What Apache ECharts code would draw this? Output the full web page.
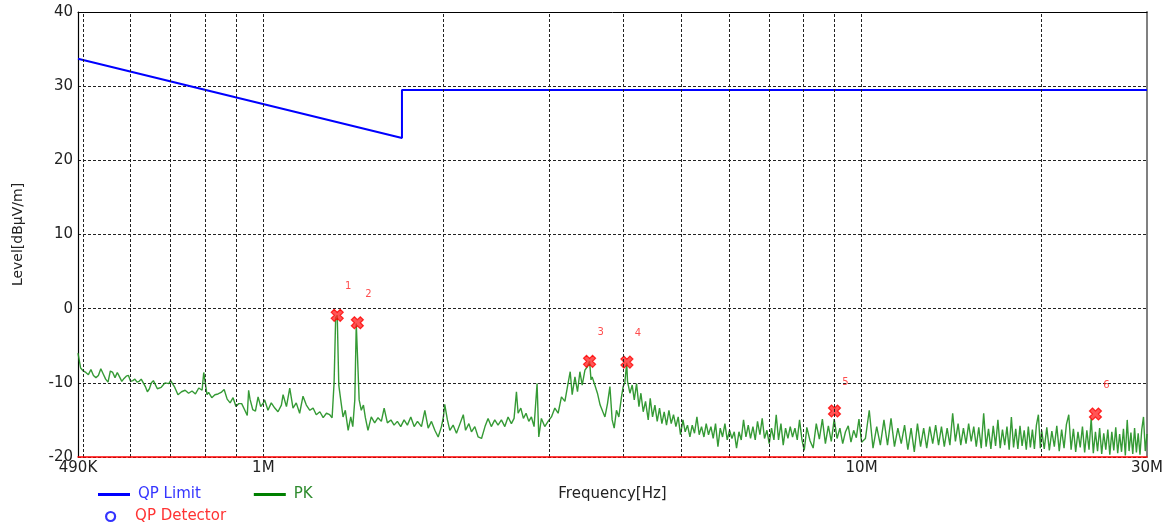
<!DOCTYPE html>
<html>
<head>
<meta charset="utf-8">
<script src="https://cdn.jsdelivr.net/npm/echarts@6.0.0/dist/echarts.min.js"></script>
<style>
html,body{margin:0;padding:0;background:#fff;}
#chart{width:1170px;height:527px;}
</style>
</head>
<body>
<div id="chart"></div>
<script>
// ---- Data (frequencies in MHz, levels in dBµV/m) ----
const xTickMHz = [0.49, 1, 10, 30];
const xTickText = ['490K', '1M', '10M', '30M'];
const gridFreqMHz = [0.5, 0.6, 0.7, 0.8, 0.9, 1, 2, 3, 4, 5, 6, 7, 8, 9, 10, 20];

const limitFreqMHz = [0.49, 1.705, 1.705, 30];
const limitLevel = [33.7, 23.0, 29.5, 29.5];

const peakFreqMHz = [1.329, 1.436, 3.51, 4.053, 9.01, 24.6];
const peakLevel = [-0.9, -1.9, -7.1, -7.2, -13.8, -14.2];
const peakLabels = ['1', '2', '3', '4', '5', '6'];

const pkFreqA = [0.490,0.495,0.500,0.505,0.510,0.515,0.520,0.525,0.530,0.535,
  0.540,0.545,0.550,0.555,0.560,0.565,0.570,0.575,0.580,0.585,
  0.590,0.595,0.600,0.605,0.610,0.615,0.620,0.625,0.630,0.635,
  0.640,0.645,0.650,0.655,0.660,0.665,0.670,0.675,0.680,0.685,
  0.690,0.695,0.700,0.710,0.720,0.730,0.740,0.750,0.760,0.770,
  0.780,0.790,0.795,0.800,0.805,0.810,0.820,0.830,0.840,0.850,
  0.860,0.870,0.880,0.890,0.900,0.910,0.920,0.930,0.940,0.945,
  0.950,0.960,0.970,0.980,0.990];
const pkLevelA = [-6.0,-8.0,-8.4,-8.6,-8.9,-8.2,-9.0,-9.3,-9.0,-8.1,
  -8.8,-9.5,-9.9,-8.4,-8.6,-9.3,-8.6,-9.2,-9.8,-9.4,
  -9.1,-9.0,-9.8,-9.7,-9.5,-9.9,-9.8,-9.5,-10.0,-10.5,
  -11.2,-10.8,-10.0,-9.7,-9.9,-10.8,-10.9,-10.6,-10.3,-10.0,
  -10.2,-10.1,-9.7,-10.5,-11.6,-11.2,-11.0,-11.4,-11.1,-11.5,
  -10.7,-11.0,-8.6,-8.8,-11.6,-11.3,-12.0,-11.6,-11.5,-11.3,
  -10.9,-12.2,-12.7,-12.0,-13.2,-12.8,-12.8,-13.6,-14.4,-11.0,
  -12.2,-13.6,-13.8,-11.9,-13.2];

const pkFreqB = [1.000,1.005,1.018,1.031,1.045,1.058,1.072,1.079,1.093,1.107,
  1.121,1.135,1.150,1.165,1.180,1.196,1.211,1.226,1.243,1.259,
  1.275,1.291,1.303,1.313,1.321,1.329,1.337,1.347,1.359,1.371,
  1.386,1.400,1.411,1.422,1.430,1.437,1.446,1.458,1.470,1.481,
  1.496,1.515,1.535,1.555,1.575,1.592,1.612,1.634,1.654,1.675,
  1.697,1.719,1.741,1.764,1.787,1.810,1.838,1.862,1.886,1.910,
  1.935,1.960,1.985,2.000];
const pkLevelB = [-12.7,-12.3,-13.7,-12.7,-13.4,-13.9,-13.0,-11.6,-13.2,-10.7,
  -13.4,-12.7,-14.1,-11.8,-13.0,-13.7,-13.4,-14.3,-13.9,-14.7,
  -14.1,-14.3,-14.7,-10.0,-1.2,-0.9,-10.3,-12.3,-14.6,-13.7,
  -16.4,-14.6,-15.9,-12.3,-2.0,-1.9,-12.3,-13.7,-13.0,-14.7,
  -16.4,-14.6,-15.4,-14.7,-15.2,-13.4,-15.4,-15.0,-15.7,-15.2,
  -15.9,-15.0,-15.7,-14.6,-15.9,-15.2,-15.9,-13.7,-16.1,-15.2,
  -16.4,-17.3,-15.9,-14.6];

const pkFreqC = [2.010,2.031,2.050,2.076,2.103,2.132,2.159,2.178,2.206,2.228,
  2.257,2.286,2.316,2.347,2.375,2.405,2.437,2.468,2.500,2.533,
  2.565,2.598,2.625,2.649,2.666,2.694,2.721,2.749,2.778,2.806,
  2.835,2.868,2.887,2.916,2.954,2.992,3.031,3.071,3.110,3.150,
  3.192,3.224,3.258,3.283,3.318,3.351,3.382,3.412,3.448,3.482,
  3.510,3.530,3.545,3.582,3.618,3.656,3.694,3.724,3.761,3.796,
  3.829,3.859,3.893,3.929,3.969,3.995,4.020,4.050,4.062];
const pkLevelC = [-12.9,-15.0,-16.4,-15.7,-16.8,-15.5,-14.3,-16.4,-15.5,-16.6,
  -15.9,-17.3,-17.5,-15.9,-14.8,-15.9,-15.0,-15.7,-15.0,-15.9,
  -14.6,-15.5,-14.8,-11.2,-14.1,-13.4,-14.8,-14.1,-15.2,-14.6,
  -15.9,-10.1,-17.3,-14.8,-15.9,-15.2,-14.6,-13.4,-14.1,-11.9,
  -12.5,-10.5,-8.5,-11.6,-9.2,-11.2,-8.5,-10.3,-8.3,-7.8,
  -7.1,-9.6,-9.2,-10.3,-11.4,-13.0,-13.9,-14.6,-12.8,-10.5,
  -15.0,-16.1,-13.7,-14.6,-11.9,-10.5,-10.0,-7.3,-9.8];

const pkFreqD = [4.100,4.136,4.169,4.206,4.245,4.277,4.315,4.354,4.399,4.433,
  4.473,4.514,4.554,4.595,4.637,4.678,4.720,4.764,4.806,4.849,
  4.894,4.937,4.981,5.028,5.072,5.117,5.165,5.211,5.257,5.306,
  5.353,5.401,5.451,5.499,5.548,5.600,5.649,5.700,5.753,5.804,
  5.856,5.910,5.962,6.016,6.072,6.126,6.180,6.238,6.293,6.349,
  6.408,6.465,6.522,6.583,6.641,6.700,6.762,6.822,6.883,6.947,
  7.008,7.071,7.137,7.200,7.264,7.332,7.397,7.463,7.532,7.599,
  7.667,7.738,7.807,7.876,7.950,8.020,8.092];
const pkLevelD = [-11.4,-10.3,-12.3,-10.1,-13.2,-11.4,-13.9,-12.5,-15.0,-12.1,
  -14.6,-13.0,-15.2,-13.4,-15.5,-13.9,-15.7,-13.7,-15.5,-14.3,
  -15.9,-14.6,-17.0,-15.0,-16.6,-15.7,-17.3,-15.7,-16.8,-14.6,
  -17.0,-15.9,-17.3,-15.5,-17.0,-15.9,-17.5,-15.5,-18.6,-16.1,
  -17.3,-15.5,-17.7,-16.4,-17.5,-16.6,-18.8,-16.6,-17.7,-15.0,
  -17.3,-15.7,-17.5,-15.9,-17.7,-15.2,-17.0,-14.8,-17.5,-16.4,
  -18.2,-16.1,-17.7,-14.3,-17.7,-15.5,-18.4,-16.1,-17.5,-15.9,
  -17.3,-16.1,-17.7,-15.0,-17.7,-19.1,-16.4];

const pkFreqE = [8.1,8.2,8.3,8.4,8.5,8.6,8.7,8.8,8.9,9.0,
  9.1,9.2,9.3,9.4,9.5,9.6,9.7,9.8,9.9,10.0];
const pkLevelE = [-16.0,-17.8,-18.8,-15.5,-17.6,-14.9,-18.2,-15.8,-17.9,-14.9,
  -17.5,-16.1,-18.2,-16.6,-15.8,-18.0,-16.4,-17.4,-14.9,-18.0];

const pkFreqF = [10.15,10.30,10.45,10.60,10.75,10.90,11.05,11.20,11.35,11.50,
  11.65,11.80,11.95,12.10,12.25,12.40,12.55,12.70,12.85,13.00,
  13.15,13.30,13.45,13.60,13.75,13.90,14.05,14.20,14.35,14.50,
  14.65,14.80,14.95,15.10,15.25,15.40,15.55,15.70,15.85,16.00,
  16.15,16.30,16.45,16.60,16.75,16.90,17.05,17.20,17.35,17.50,
  17.65,17.80,17.95,18.10,18.25,18.40,18.55,18.70,18.85,19.00,
  19.15,19.30,19.45,19.60,19.75,19.90];
const pkLevelF = [-17.5,-13.7,-18.8,-15.9,-18.4,-15.0,-18.4,-14.8,-18.6,-16.1,
  -18.2,-15.7,-19.0,-16.1,-19.3,-15.5,-18.6,-16.1,-18.8,-15.9,
  -18.2,-15.7,-18.4,-15.9,-18.6,-16.1,-18.4,-14.1,-17.9,-15.5,
  -18.4,-16.1,-18.2,-15.5,-17.9,-15.9,-18.6,-16.0,-18.8,-14.1,
  -18.6,-16.2,-18.9,-15.8,-18.5,-15.0,-18.8,-16.3,-18.4,-15.9,
  -19.0,-14.6,-18.7,-16.2,-18.9,-15.8,-18.5,-16.4,-19.0,-15.9,
  -18.7,-16.3,-18.9,-15.7,-14.3,-18.8];

const pkFreqG = [20.0,20.2,20.4,20.6,20.8,21.0,21.2,21.4,21.6,21.8,
  22.0,22.2,22.4,22.6,22.8,23.0,23.2,23.4,23.6,23.8,
  24.0,24.2,24.4,24.6,24.8,25.0,25.2,25.4,25.6,25.8,
  26.0,26.2,26.4,26.6,26.8,27.0,27.2,27.4,27.6,27.8,
  28.0,28.2,28.4,28.6,28.8,29.0,29.2,29.4,29.6,29.8,30.0];
const pkLevelG = [-16.4,-18.9,-16.0,-19.1,-16.5,-18.6,-15.8,-19.2,-16.3,-18.8,
  -15.6,-14.3,-19.0,-16.2,-19.3,-16.6,-18.7,-15.9,-19.4,-16.4,
  -19.0,-14.8,-19.5,-16.6,-19.2,-16.1,-19.6,-16.8,-19.0,-16.3,
  -19.7,-16.6,-19.1,-16.0,-19.5,-16.9,-19.3,-16.2,-19.8,-15.0,
  -19.2,-16.7,-19.6,-16.1,-19.4,-16.8,-19.7,-16.3,-14.6,-19.2,-16.9];

// ---- Build series data ----
const MHz = 1e6;
const zip = (fs, vs) => fs.map((f, i) => [f * MHz, vs[i]]);
const pkData = [].concat(
  zip(pkFreqA, pkLevelA), zip(pkFreqB, pkLevelB), zip(pkFreqC, pkLevelC),
  zip(pkFreqD, pkLevelD), zip(pkFreqE, pkLevelE), zip(pkFreqF, pkLevelF),
  zip(pkFreqG, pkLevelG)
);
const limitData = zip(limitFreqMHz, limitLevel);
const peakData = peakFreqMHz.map((f, i) => ({ value: [f * MHz, peakLevel[i]], name: peakLabels[i] }));

const FONT = 'DejaVu Sans';
const chart = echarts.init(document.getElementById('chart'), null, { renderer: 'canvas' });

const option = {
  animation: false,
  backgroundColor: '#ffffff',
  grid: { left: 78, right: 23, top: 12, bottom: 70, containLabel: false },
  legend: [
    {
      left: 98, top: 487, orient: 'horizontal', padding: 0,
      icon: 'rect', itemWidth: 32, itemHeight: 3, itemGap: 53,
      selectedMode: false,
      textStyle: { fontFamily: FONT, fontSize: 15, padding: [0, 0, 0, 3] },
      data: [
        { name: 'QP Limit', textStyle: { color: '#3535ff' } },
        { name: 'PK', textStyle: { color: '#2e8b2e' } }
      ]
    },
    {
      left: 105, top: 509, padding: 0,
      itemWidth: 25, itemHeight: 9,
      selectedMode: false,
      textStyle: { fontFamily: FONT, fontSize: 15, padding: [0, 0, 0, 7] },
      data: [
        { name: 'QP Detector', icon: 'circle',
          itemStyle: { color: 'rgba(0,0,0,0)', borderColor: '#0000ff', borderWidth: 2.2 },
          textStyle: { color: '#ff3333' } }
      ]
    }
  ],
  xAxis: [
    {
      type: 'log', logBase: 10, min: 490000, max: 30000000,
      position: 'bottom', z: 5,
      name: 'Frequency[Hz]', nameLocation: 'middle', nameGap: 30,
      nameTextStyle: { fontFamily: FONT, fontSize: 15, color: '#222' },
      axisLine: { show: true, onZero: false, lineStyle: { color: '#ff0000', width: 1.5 } },
      axisTick: { show: false },
      splitLine: { show: false },
      axisLabel: {
        show: true, margin: 4, fontFamily: FONT, fontSize: 15, color: '#222',
        customValues: xTickMHz.map(v => v * MHz),
        showMinLabel: true, showMaxLabel: true, hideOverlap: false,
        formatter: function (v) {
          for (let i = 0; i < xTickMHz.length; i++) {
            if (Math.abs(xTickMHz[i] * MHz - v) / (xTickMHz[i] * MHz) < 1e-3) return xTickText[i];
          }
          return '';
        }
      }
    },
    {
      type: 'log', logBase: 10, min: 490000, max: 30000000,
      position: 'top',
      axisLine: { show: true, onZero: false, lineStyle: { color: '#000', width: 1 } },
      axisTick: { show: false }, axisLabel: { show: false }, splitLine: { show: false }
    }
  ],
  yAxis: [
    {
      type: 'value', min: -20, max: 40, interval: 10, position: 'left',
      name: 'Level[dBµV/m]', nameLocation: 'middle', nameGap: 53, nameRotate: 90,
      nameTextStyle: { fontFamily: FONT, fontSize: 14, color: '#222' },
      axisLine: { show: true, onZero: false, lineStyle: { color: '#000', width: 1.2 } },
      axisTick: { show: false },
      axisLabel: { margin: 5, fontFamily: FONT, fontSize: 15, color: '#222' },
      splitLine: { show: true, lineStyle: { color: '#222', width: 1, type: [3, 2] } }
    },
    {
      type: 'value', min: -20, max: 40, interval: 10, position: 'right',
      axisLine: { show: true, onZero: false, lineStyle: { color: '#808080', width: 2 } },
      axisTick: { show: false }, axisLabel: { show: false }, splitLine: { show: false }
    }
  ],
  series: [
    {
      name: 'gridV', type: 'line', data: [], silent: true, z: 1,
      markLine: {
        silent: true, symbol: ['none', 'none'], animation: false,
        label: { show: false },
        lineStyle: { color: '#222', width: 1, type: [3, 2] },
        emphasis: { disabled: true },
        data: gridFreqMHz.map(f => ({ xAxis: f * MHz }))
      }
    },
    {
      name: 'QP Limit', type: 'line', data: limitData, symbol: 'none', z: 3,
      color: '#0000ff',
      lineStyle: { color: '#0000ff', width: 2 }
    },
    {
      name: 'PK', type: 'line', data: pkData, symbol: 'none', z: 2,
      color: '#008000',
      lineStyle: { color: '#1f8f1f', width: 1.4, opacity: 0.9 }
    },
    {
      name: 'QP Detector', type: 'scatter', data: [], color: '#0000ff',
      symbol: 'emptyCircle'
    },
    {
      name: 'Peaks', type: 'scatter', data: peakData, z: 4,
      symbol: 'path://M3,0 L6,3 L9,0 L12,3 L9,6 L12,9 L9,12 L6,9 L3,12 L0,9 L3,6 L0,3 Z',
      symbolSize: 12,
      itemStyle: { color: '#ff2a2a', borderColor: '#ff0000', borderWidth: 1.2 },
      label: {
        show: true, position: 'top', offset: [11, -12],
        formatter: p => p.name,
        color: '#ff2020', fontFamily: FONT, fontSize: 10
      }
    }
  ]
};
chart.setOption(option);
</script>
</body>
</html>
